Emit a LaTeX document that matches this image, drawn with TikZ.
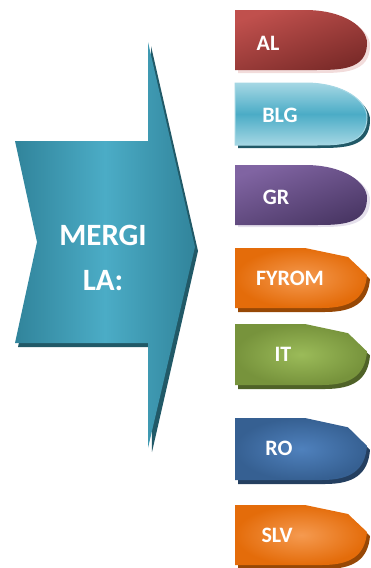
\documentclass[tikz,border=0pt]{standalone}
\usepackage{fontspec}
\setmainfont{Carlito}
\definecolor{arrA}{HTML}{31849B}
\definecolor{arrB}{HTML}{4BACC6}
\definecolor{arrS}{HTML}{215967}
\definecolor{alA}{HTML}{C0504D}
\definecolor{alB}{HTML}{7B2B29}
\definecolor{alP}{HTML}{F2DCDB}
\definecolor{blA}{HTML}{4BACC6}
\definecolor{blB}{HTML}{A5D7E4}
\definecolor{blS}{HTML}{215967}
\definecolor{grA}{HTML}{8064A2}
\definecolor{grB}{HTML}{4A3765}
\definecolor{grP}{HTML}{E5E0EC}
\definecolor{orA}{HTML}{E46C0A}
\definecolor{orB}{HTML}{F59A50}
\definecolor{orS}{HTML}{974806}
\definecolor{itA}{HTML}{77933C}
\definecolor{itB}{HTML}{9BBB59}
\definecolor{itS}{HTML}{4F6228}
\definecolor{roA}{HTML}{366092}
\definecolor{roB}{HTML}{4F81BD}
\definecolor{roS}{HTML}{243F60}
\newcommand\pillround[3]{%
  \path[#3] (235,#1) -- (305,#1) .. controls (345,#1) and (367,{#1+0.3*#2}) .. (367,{#1+0.55*#2})
    .. controls (367,{#1+#2}) and (340,{#1+#2}) .. (315,{#1+#2}) -- (235,{#1+#2}) -- cycle;}
\newcommand\pillbullet[3]{%
  \path[#3] (235,#1) -- (305,#1) -- (348,{#1+0.15*#2}) -- (367,{#1+0.45*#2})
    .. controls (365,{#1+0.85*#2}) and (350,{#1+#2}) .. (322,{#1+#2}) -- (235,{#1+#2}) -- cycle;}
\begin{document}
\begin{tikzpicture}[x=1pt,y=-1pt,
  lbl/.style={text=white,font=\bfseries\fontsize{22}{24}\selectfont,inner sep=0pt},
  biglbl/.style={text=white,font=\bfseries\fontsize{31}{45}\selectfont,align=center,inner sep=0pt}]
\useasboundingbox (0,0) rectangle (371,568);
% big arrow
\fill[arrS] (18,145) -- (151,145) -- (151,46) -- (198,251) -- (152,452) -- (151,347) -- (18,347) -- (40,246) -- cycle;
\shade[left color=arrA,right color=arrA,middle color=arrB]
  (15,141) -- (148,141) -- (148,42) -- (195,247) -- (148,448) -- (148,343) -- (15,343) -- (37,242) -- cycle;
\node[biglbl] (merge) at (103,258) {MERGI\\LA:};
% AL
\pillround{11}{61}{fill=alP,shift={(3,1)}}
\pillround{10}{60}{top color=alA,bottom color=alB,shading angle=20}
\node[lbl] (al) at (268,43) {AL};
% BLG
\pillround{83}{62}{fill=blS,shift={(3,3)}}
\pillround{83}{62}{draw=blB,line width=1pt,top color=blB,bottom color=blB,middle color=blA}
\node[lbl] (blg) at (280,115) {BLG};
% GR
\pillround{166}{60}{fill=grP,shift={(3,1)}}
\pillround{165}{60}{top color=grA,bottom color=grB,shading angle=20}
\node[lbl] (gr) at (276,197) {GR};
% FYROM
\pillbullet{248}{60}{fill=orS,shift={(3,4)}}
\pillbullet{248}{60}{inner color=orB,outer color=orA}
\node[lbl] (fyrom) at (290,278) {FYROM};
% IT
\pillbullet{324}{61}{fill=itS,shift={(3,4)}}
\pillbullet{324}{61}{inner color=itB,outer color=itA}
\node[lbl] (it) at (283,354) {IT};
% RO
\pillbullet{418}{62}{fill=roS,shift={(3,4)}}
\pillbullet{418}{62}{inner color=roB,outer color=roA}
\node[lbl] (ro) at (279,448) {RO};
% SLV
\pillbullet{505}{60}{fill=orS,shift={(3,4)}}
\pillbullet{505}{60}{inner color=orB,outer color=orA}
\node[lbl] (slv) at (277,535) {SLV};
\end{tikzpicture}
\end{document}
